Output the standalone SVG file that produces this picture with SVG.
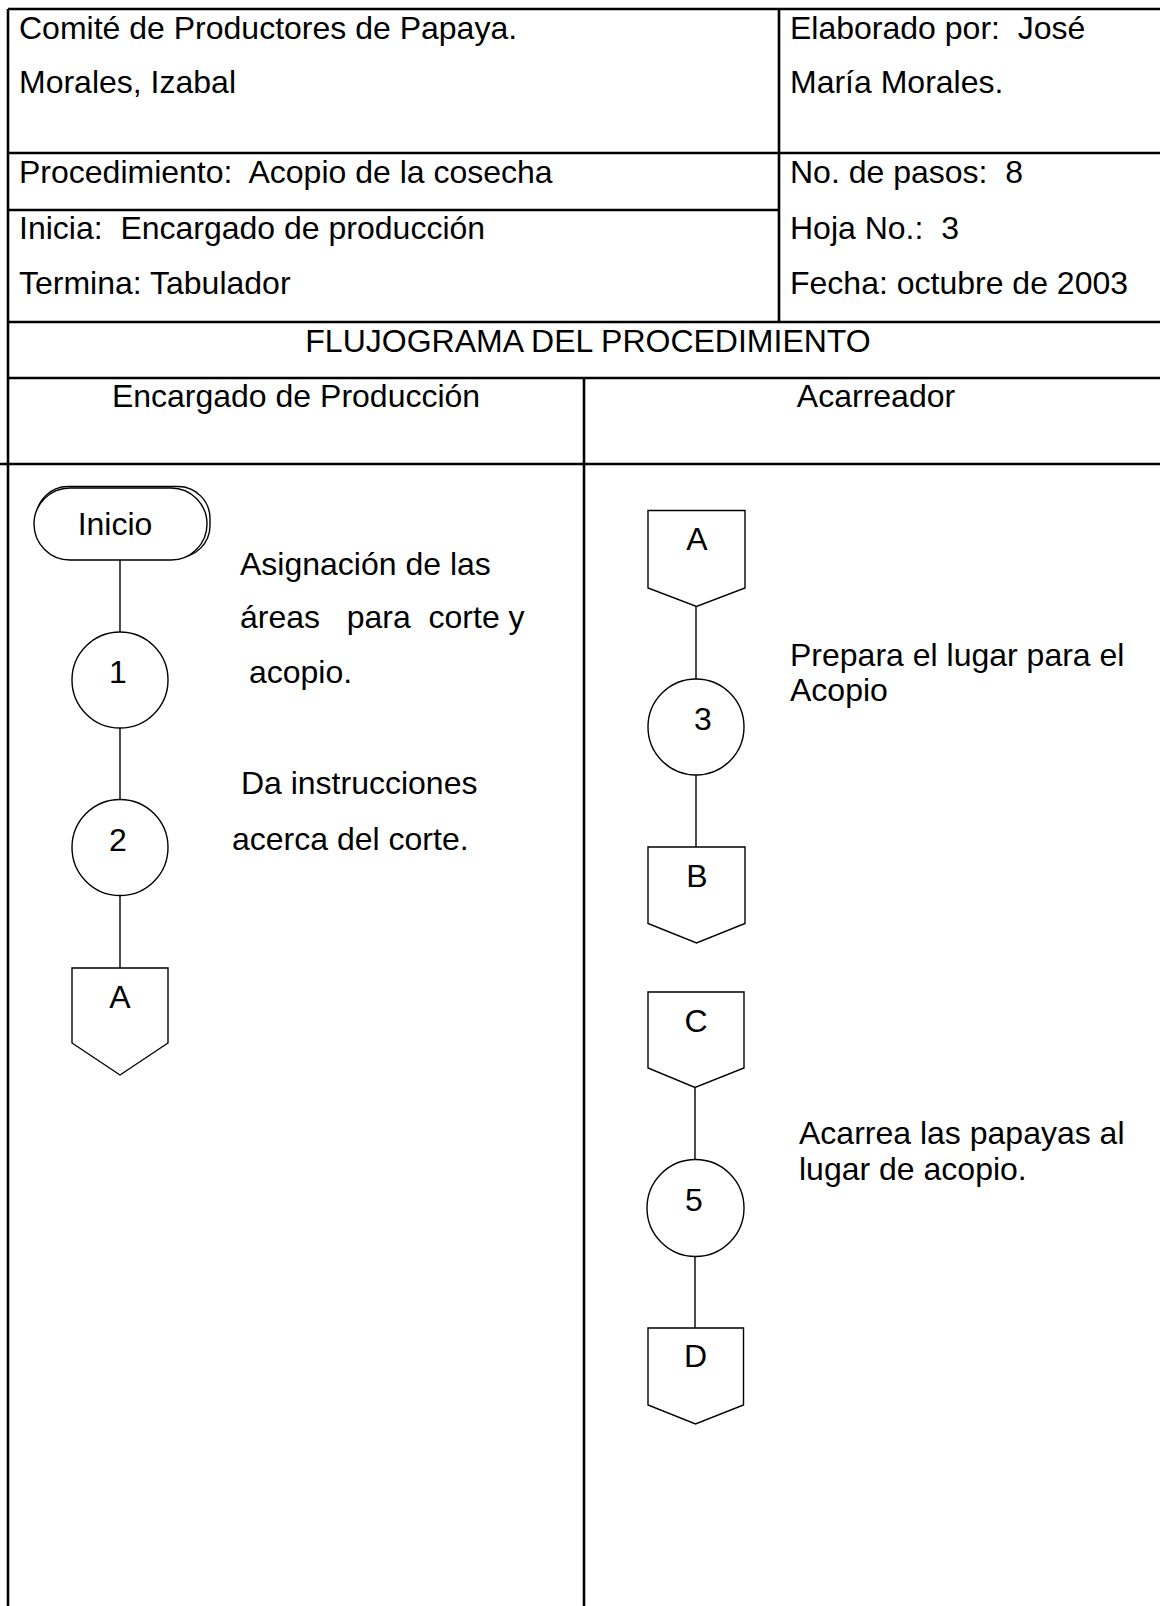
<svg xmlns="http://www.w3.org/2000/svg" width="1160" height="1606" viewBox="0 0 1160 1606">
<style>
text{font-family:"Liberation Sans",Arial,sans-serif;font-size:32px;fill:#000;white-space:pre}
.c{text-anchor:middle}
.tl{stroke:#000;stroke-width:2.6;fill:none}
.sh{stroke:#000;stroke-width:1.4;fill:#fff}
.cn{stroke:#000;stroke-width:1.4;fill:none}
</style>
<rect x="0" y="0" width="1160" height="1606" fill="#fff"/>
<g id="table">
<path class="tl" d="M8 9H1160M8 153H1160M8 210H779M8 322H1160M8 378H1160M0 464H1160M8 9V1606M779 9V322M584 378V1606"/>
<text x="19" y="39">Comité de Productores de Papaya.</text>
<text x="19" y="93">Morales, Izabal</text>
<text x="19" y="183">Procedimiento:  Acopio de la cosecha</text>
<text x="19" y="239">Inicia:  Encargado de producción</text>
<text x="19" y="294">Termina: Tabulador</text>
<text x="790" y="39">Elaborado por:  José</text>
<text x="790" y="93">María Morales.</text>
<text x="790" y="183">No. de pasos:  8</text>
<text x="790" y="239">Hoja No.:  3</text>
<text x="790" y="294">Fecha: octubre de 2003</text>
<text class="c" x="588" y="352">FLUJOGRAMA DEL PROCEDIMIENTO</text>
<text class="c" x="296" y="407">Encargado de Producción</text>
<text class="c" x="876" y="407">Acarreador</text>
</g>
<g id="connectors">
<path class="cn" d="M120 560V632M120 728V799M120 896V968M696 606V679M696 775V847M695 1087V1159M695 1257V1328"/>
</g>
<g id="inicio">
<rect class="sh" x="36" y="486.5" width="174" height="71" rx="32"/>
<rect class="sh" x="34" y="488" width="173" height="72" rx="36"/>
<text class="c" x="115" y="535">Inicio</text>
</g>
<g id="op1">
<circle class="sh" cx="120" cy="680" r="48"/>
<text class="c" x="118" y="683">1</text>
</g>
<g id="op2">
<circle class="sh" cx="120" cy="847.5" r="48"/>
<text class="c" x="118" y="851">2</text>
</g>
<g id="offA1">
<path class="sh" d="M72 968H168V1043L120 1075L72 1043Z"/>
<text class="c" x="120" y="1008">A</text>
</g>
<g id="desc1">
<text x="240" y="575">Asignación de las</text>
<text x="240" y="628">áreas   para  corte y</text>
<text x="240" y="683"> acopio.</text>
<text x="232" y="794"> Da instrucciones</text>
<text x="232" y="850">acerca del corte.</text>
</g>
<g id="offA2">
<path class="sh" d="M648 510.5H745V588L696.5 606.5L648 588Z"/>
<text class="c" x="697" y="550">A</text>
</g>
<g id="op3">
<circle class="sh" cx="696" cy="727" r="48"/>
<text class="c" x="703" y="730">3</text>
</g>
<g id="desc3">
<text x="790" y="666">Prepara el lugar para el</text>
<text x="790" y="701">Acopio</text>
</g>
<g id="offB">
<path class="sh" d="M648 847H745V923.5L696.5 943L648 923.5Z"/>
<text class="c" x="697" y="887">B</text>
</g>
<g id="offC">
<path class="sh" d="M648 992H744V1068L695 1087.5L648 1068Z"/>
<text class="c" x="696" y="1032">C</text>
</g>
<g id="op5">
<circle class="sh" cx="695.5" cy="1208" r="48.5"/>
<text class="c" x="694" y="1211">5</text>
</g>
<g id="desc5">
<text x="799" y="1144">Acarrea las papayas al</text>
<text x="799" y="1180">lugar de acopio.</text>
</g>
<g id="offD">
<path class="sh" d="M648 1328H743.5V1405L695.5 1424L648 1405Z"/>
<text class="c" x="695.5" y="1367">D</text>
</g>
</svg>
